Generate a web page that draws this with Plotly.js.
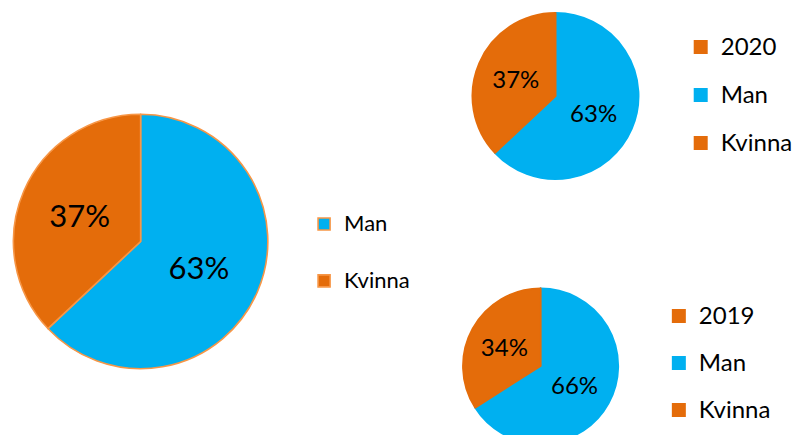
<!DOCTYPE html>
<html>
<head>
<meta charset="utf-8">
<script src="https://cdn.plot.ly/plotly-3.0.1.min.js"></script>
<style>
  html, body { margin: 0; padding: 0; overflow: hidden; background: #fff; }
  #chart { width: 798px; height: 450px; }
</style>
</head>
<body>
<div id="chart"></div>
<script>
// ---- data ----
var categories = ['Man', 'Kvinna'];
var totalValues = [63, 37];
var series2020Name = '2020';
var values2020 = [63, 37];
var series2019Name = '2019';
var values2019 = [66, 34];

// ---- styling ----
var BLUE = '#00B0F0';
var ORANGE = '#E46C0A';
var EDGE = '#F79646';
var FONT = 'Lato, Carlito, Calibri, sans-serif';
var W = 798, H = 450;

function wrap(t, size, shift) {
  return '<span style="font-size:' + size + 'px;baseline-shift:' + shift + 'px">' + t + '</span>';
}
function domX(a, b) { return [a / W, b / W]; }
function domY(t, b) { return [1 - b / H, 1 - t / H]; }

var pieBig = {
  type: 'pie',
  labels: categories.map(function (c) { return wrap(c, 22, 9); }),
  values: totalValues,
  sort: false, direction: 'clockwise', rotation: 0,
  marker: { colors: [BLUE, ORANGE], line: { color: EDGE, width: 1.6 } },
  textinfo: 'percent', textposition: 'inside', insidetextorientation: 'horizontal',
  insidetextfont: { family: FONT, size: 31, color: '#000' },
  domain: { x: domX(13.5, 269.5), y: domY(113.5, 369.5) },
  legend: 'legend',
  hoverinfo: 'label+percent'
};

var colors3 = [ORANGE, BLUE, ORANGE];

var labels2020 = [series2020Name].concat(categories);
var pie2020 = {
  type: 'pie',
  labels: labels2020.map(function (c) { return wrap(c, 24, 5.5); }),
  values: [0].concat(values2020),
  sort: false, direction: 'clockwise', rotation: 0,
  marker: { colors: colors3, line: { color: colors3, width: 2 } },
  textinfo: 'percent', textposition: ['none', 'inside', 'inside'], insidetextorientation: 'horizontal',
  insidetextfont: { family: FONT, size: 24, color: '#000' },
  domain: { x: domX(475.5, 642.5), y: domY(12.5, 179.5) },
  legend: 'legend2',
  hoverinfo: 'label+percent'
};

var labels2019 = [series2019Name].concat(categories);
var pie2019 = {
  type: 'pie',
  labels: labels2019.map(function (c) { return wrap(c, 24, 5); }),
  values: [0].concat(values2019),
  sort: false, direction: 'clockwise', rotation: 0,
  marker: { colors: colors3, line: { color: colors3, width: 2 } },
  textinfo: 'percent', textposition: ['none', 'inside', 'inside'], insidetextorientation: 'horizontal',
  insidetextfont: { family: FONT, size: 24, color: '#000' },
  domain: { x: domX(466, 622), y: domY(288, 444) },
  legend: 'legend3',
  hoverinfo: 'label+percent'
};

var layout = {
  width: W, height: H,
  margin: { l: 0, r: 0, t: 0, b: 0 },
  paper_bgcolor: '#fff',
  font: { family: FONT, color: '#000' },
  showlegend: true,
  legend: {
    x: 306 / W, y: 1 - 190.5 / H, xanchor: 'left', yanchor: 'top',
    font: { family: FONT, size: 41.5, color: '#000' },
    bgcolor: 'rgba(0,0,0,0)', borderwidth: 0, traceorder: 'normal'
  },
  legend2: {
    x: 685 / W, y: 1 - 18 / H, xanchor: 'left', yanchor: 'top',
    font: { family: FONT, size: 34.6, color: '#000' },
    bgcolor: 'rgba(0,0,0,0)', borderwidth: 0, traceorder: 'normal'
  },
  legend3: {
    x: 663 / W, y: 1 - 287.5 / H, xanchor: 'left', yanchor: 'top',
    font: { family: FONT, size: 33.85, color: '#000' },
    bgcolor: 'rgba(0,0,0,0)', borderwidth: 0, traceorder: 'normal'
  }
};

Plotly.newPlot('chart', [pieBig, pie2020, pie2019], layout, { displayModeBar: false, staticPlot: true });
</script>
</body>
</html>
